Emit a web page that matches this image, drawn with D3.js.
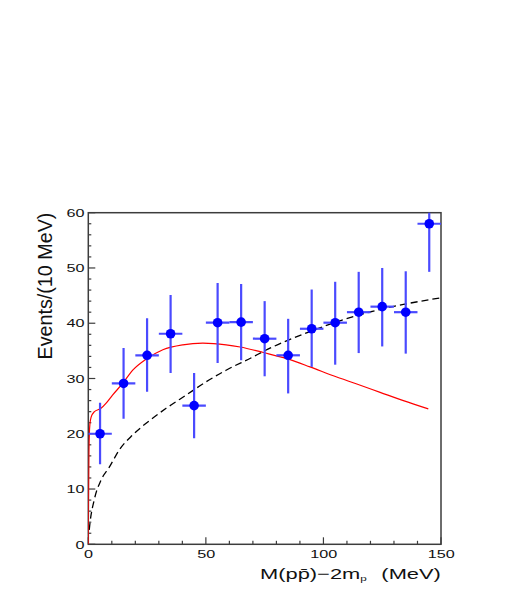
<!DOCTYPE html>
<html>
<head>
<meta charset="utf-8">
<script src="https://cdn.jsdelivr.net/npm/d3@7"></script>
<style>
  html, body { margin: 0; padding: 0; background: #fff; }
  svg { display: block; }
  text { font-family: "Liberation Sans", Arial, sans-serif; fill: #111; }
</style>
</head>
<body>
<svg id="chart" width="529" height="599"></svg>
<script>
// ---- data ----
const binCenters = [5, 15, 25, 35, 45, 55, 65, 75, 85, 95, 105, 115, 125, 135, 145];
const events     = [20.0, 29.1, 34.2, 38.1, 25.1, 40.1, 40.2, 37.2, 34.2, 39.0, 40.1, 42.0, 43.0, 42.0, 58.0];
const errLow     = [14.5, 22.7, 27.6, 31.0, 19.2, 32.8, 33.3, 30.4, 27.3, 32.1, 32.5, 34.6, 35.8, 34.5, 49.3];
const errHigh    = [25.6, 35.5, 40.9, 45.1, 31.0, 47.3, 47.1, 44.0, 40.8, 46.1, 47.5, 49.3, 50.0, 49.4, 65.6];
const binHalfWidth = 5;

const fitX = [0, 0.1, 0.25, 0.45, 0.7, 1.2, 2.6, 5.4, 7.5, 10.3, 14.6, 18.9, 24.6, 31.7, 40.2, 48.7, 58.6, 64.6, 74.5, 84.4, 94.3, 104.2, 114.2, 124.1, 134, 144.6];
const fitY = [0, 8, 16, 20, 21.8, 23.0, 24.0, 24.6, 25.5, 27.0, 29.1, 31.5, 33.5, 35.2, 36.1, 36.4, 36.1, 35.7, 34.7, 33.6, 32.1, 30.5, 29.0, 27.5, 26.0, 24.5];

const psX = [0.4, 0.7, 2.5, 5.4, 9.0, 13.2, 18.9, 24.6, 33.1, 41.6, 50.1, 58.6, 70, 74.5, 94.3, 114.2, 134, 150];
const psY = [2.6, 3.8, 8.0, 11.6, 14.0, 17.1, 19.8, 21.9, 24.6, 27.0, 29.4, 31.5, 33.9, 34.9, 38.5, 41.4, 43.4, 44.6];

const xTicksMajor = [0, 50, 100, 150];
const yTicksMajor = [0, 10, 20, 30, 40, 50, 60];
const xTitleMain = "M(pp\u0304)\u22122m";
const xTitleSub = "p";
const xTitleUnit = "(MeV)";
const yTitle = "Events/(10 MeV)";

// ---- layout ----
const L = 88.3, R = 441, T = 212.7, B = 544.3;
const svg = d3.select("#chart");
const x = d3.scaleLinear().domain([0, 150]).range([L, R]);
const y = d3.scaleLinear().domain([0, 60]).range([B, T]);
const axisColor = "#3c3c3c";

svg.append("rect").attr("width", 529).attr("height", 599).attr("fill", "#fff");

svg.append("defs").append("clipPath").attr("id", "plotclip")
  .append("rect").attr("x", L).attr("y", T).attr("width", R - L).attr("height", B - T);

// ticks (inside)
const tickG = svg.append("g").attr("stroke", axisColor).attr("stroke-width", 1.2);
d3.range(0, 151, 10).forEach(v => {
  const major = v % 50 === 0;
  tickG.append("line").attr("x1", x(v)).attr("x2", x(v))
    .attr("y1", B).attr("y2", B - (major ? 7 : 3.5));
});
d3.range(0, 61, 2).forEach(v => {
  const major = v % 10 === 0;
  tickG.append("line").attr("y1", y(v)).attr("y2", y(v))
    .attr("x1", L).attr("x2", L + (major ? 7 : 3));
});

// frame
svg.append("rect").attr("x", L).attr("y", T).attr("width", R - L).attr("height", B - T)
  .attr("fill", "none").attr("stroke", axisColor).attr("stroke-width", 1.5);

// text helper: stretch to a target width
function fitText(parent, build, px, py, fontSize, targetW, anchor, rot) {
  const t = parent.append("text").attr("font-size", fontSize).attr("x", 0).attr("y", 0);
  build(t);
  const w = t.node().getBBox().width;
  const sx = targetW / w;
  const off = anchor === "middle" ? -w / 2 : anchor === "end" ? -w : 0;
  t.attr("transform", `translate(${px},${py}) rotate(${rot || 0}) scale(${sx},1) translate(${off},0)`);
  return t;
}

const labelFont = 11.6, digitW = 9;
yTicksMajor.forEach(v => {
  const s = String(v);
  fitText(svg, t => t.text(s), 84.5, y(v) + 4.2, labelFont, digitW * s.length, "end");
});
xTicksMajor.forEach(v => {
  const s = String(v);
  fitText(svg, t => t.text(s), x(v) + 0.3, 558, labelFont, digitW * s.length, "middle");
});

// axis titles
fitText(svg, t => {
  t.append("tspan").text(xTitleMain);
  t.append("tspan").attr("font-size", 8).attr("dy", 1.5).text(xTitleSub);
  t.append("tspan").attr("dy", -1.5).attr("dx", 10).text(xTitleUnit);
}, 260, 579, 15, 181, "start");

fitText(svg, t => t.text(yTitle), 51.7, 286, 20.5, 147, "middle", -90);

// curves
const plot = svg.append("g").attr("clip-path", "url(#plotclip)");

const psData = psX.map((v, i) => [v, psY[i]]);
plot.append("path").datum(psData)
  .attr("d", d3.line().x(d => x(d[0])).y(d => y(d[1])).curve(d3.curveMonotoneX))
  .attr("fill", "none").attr("stroke", "#000").attr("stroke-width", 1.3)
  .attr("stroke-dasharray", "7,4");

const fitData = fitX.map((v, i) => [v, fitY[i]]);
plot.append("path").datum(fitData)
  .attr("d", d3.line().x(d => x(d[0])).y(d => y(d[1])).curve(d3.curveMonotoneX))
  .attr("fill", "none").attr("stroke", "#ff0000").attr("stroke-width", 1.2);

// data points with error bars
const pts = binCenters.map((c, i) => ({ c, v: events[i], lo: errLow[i], hi: errHigh[i] }));
const errG = plot.append("g").attr("stroke", "#4a4aff").attr("stroke-width", 2.2);
pts.forEach(p => {
  errG.append("line").attr("x1", x(p.c)).attr("x2", x(p.c)).attr("y1", y(p.lo)).attr("y2", y(p.hi));
  errG.append("line").attr("x1", x(p.c - binHalfWidth)).attr("x2", x(p.c + binHalfWidth))
    .attr("y1", y(p.v)).attr("y2", y(p.v));
});
plot.append("g").selectAll("circle").data(pts).join("circle")
  .attr("cx", d => x(d.c)).attr("cy", d => y(d.v)).attr("r", 4.8).attr("fill", "#0000ff");
</script>
</body>
</html>
